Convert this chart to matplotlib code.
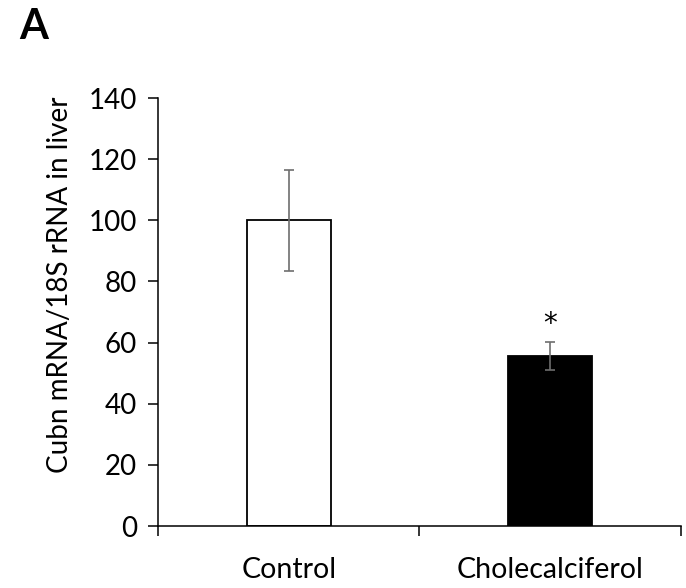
import matplotlib
matplotlib.use('Agg')
import matplotlib.pyplot as plt

plt.rcParams['font.family'] = ['Lato', 'DejaVu Sans']

groups = ['Control', 'Cholecalciferol']
means = [100, 55.6]
errors = [16.5, 4.5]
bar_colors = ['white', 'black']
yticks = [0, 20, 40, 60, 80, 100, 120, 140]

fig = plt.figure(figsize=(6.86, 5.88), dpi=100)
ax = fig.add_axes([0.2303, 0.1054, 0.7624, 0.7279])

x = list(range(len(groups)))
ax.bar(x, means, width=0.32, color=bar_colors, edgecolor='black', linewidth=1.3)
ax.errorbar(x, means, yerr=errors, fmt='none', ecolor='#6e6e6e',
            elinewidth=1.2, capsize=3.5, capthick=1.2)

# significance mark above the treated group
ax.text(1, means[1] + errors[1] + 3.4, '*', ha='center', va='baseline',
        fontsize=20, family='DejaVu Sans')

ax.set_xlim(-0.5, 1.5)
ax.set_ylim(0, 140)
ax.set_yticks(yticks)
ax.set_xticks(x)
ax.set_xticklabels(groups)
ax.set_xticks([-0.5, 0.5, 1.5], minor=True)
ax.tick_params(axis='x', which='major', length=0, pad=22, labelsize=20.5)
ax.tick_params(axis='x', which='minor', length=7, width=1.1, direction='out')
ax.tick_params(axis='y', length=7, width=1.1, direction='out', pad=8, labelsize=20)

for side in ['top', 'right']:
    ax.spines[side].set_visible(False)
for side in ['left', 'bottom']:
    ax.spines[side].set_linewidth(1.1)

ax.set_ylabel('Cubn mRNA/18S rRNA in liver', fontsize=20)
ax.yaxis.set_label_coords(-0.162, 0.563)
fig.text(0.028, 0.954, 'A', fontsize=30, fontweight='bold', ha='left', va='center')

fig.savefig('out.png', dpi=100)
